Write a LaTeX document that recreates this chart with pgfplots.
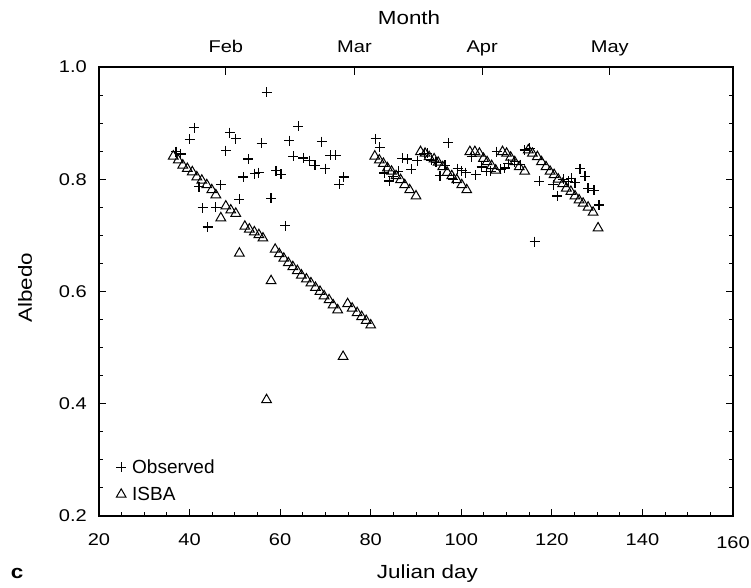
\documentclass[border=0pt]{standalone}
\usepackage{pgfplots}
\pgfplotsset{compat=1.18}
\usepackage{fontspec}
\setmainfont{Liberation Sans}[FakeStretch=1.18]
\newfontfamily\plainfont{Liberation Sans}
\newcommand{\tickf}{\fontsize{17}{20}\selectfont}
\newcommand{\labf}{\fontsize{19}{23}\selectfont}
\newcommand{\legf}{\plainfont\fontsize{19}{23}\selectfont}
\begin{document}
\begin{tikzpicture}
\path[use as bounding box] (-99pt,-71pt) rectangle (652pt,516pt);
\begin{axis}[
  width=634pt, height=449pt, scale only axis,
  xmin=20, xmax=160, ymin=0.2, ymax=1.0,
  /pgf/number format/assume math mode=true,
  xtick={20,40,60,80,100,120,140,160},
  xticklabels={20,40,60,80,100,120,140,\raisebox{-3pt}{160}},
  minor x tick num=3,
  ytick={0.2,0.4,0.6,0.8,1.0},
  minor y tick num=3,
  y tick label style={font=\tickf, /pgf/number format/fixed, /pgf/number format/fixed zerofill, /pgf/number format/precision=1, anchor=east, inner sep=0pt, xshift=-12pt},
  xtick pos=bottom, ytick pos=both,
  tick align=inside,
  major tick length=7pt, minor tick length=4pt,
  axis line style={line width=1.3pt, black},
  every tick/.style={line width=1pt, black},
  x tick label style={font=\tickf, anchor=base, inner sep=0pt, yshift=-29pt},
  xlabel={Julian day},
  xlabel style={font=\labf, at={(axis description cs:0.518,0)}, anchor=base, yshift=-62.3pt},
  ylabel={Albedo},
  ylabel style={font=\labf, at={(axis description cs:-0.1167,0.508)}, anchor=center},
  legend style={draw=none, fill=none, font=\legf, at={(axis description cs:0,0)}, anchor=south west, xshift=17pt, yshift=13pt, row sep=10pt, column sep=5pt, inner sep=0pt, nodes={inner sep=1pt}},
  legend cell align=left,
  legend image code/.code={\draw[#1] plot coordinates {(5pt,0pt)};},
]
\addplot[only marks, mark=+, mark size=5pt, line width=1.2pt, black] coordinates {
(37.0,0.849)(38.0,0.845)(40.0,0.871)(41.0,0.892)(42.1,0.787)(42.9,0.749)
(44.0,0.715)(45.8,0.750)(46.9,0.790)(48.0,0.851)(48.9,0.883)(50.2,0.872)
(51.0,0.764)(51.9,0.804)(53.0,0.836)(54.4,0.810)(55.3,0.812)(55.9,0.864)
(57.0,0.955)(58.0,0.766)(59.1,0.815)(60.2,0.809)(61.1,0.717)(62.0,0.869)
(62.9,0.841)(64.0,0.894)(65.1,0.838)(66.4,0.833)(67.7,0.825)(69.2,0.867)
(70.0,0.819)(71.1,0.843)(72.3,0.843)(73.1,0.791)(74.0,0.804)
(81.1,0.872)(82.0,0.857)(83.0,0.811)(84.1,0.797)(85.0,0.805)(86.1,0.814)
(87.0,0.837)(88.1,0.836)(89.0,0.818)(90.3,0.833)(91.8,0.846)(92.5,0.846)
(93.4,0.834)(94.4,0.830)(95.3,0.806)(96.4,0.825)(97.1,0.865)(98.2,0.800)
(99.2,0.819)(100.1,0.815)(101.0,0.812)(102.3,0.840)(103.2,0.808)(104.5,0.822)
(105.6,0.814)(106.5,0.814)(107.8,0.849)(108.7,0.818)(109.6,0.820)(110.4,0.828)
(111.8,0.831)(113.0,0.826)(114.0,0.852)(115.1,0.855)(116.2,0.689)(117.2,0.796)
(120.3,0.790)(121.2,0.770)(122.5,0.800)(123.6,0.796)(124.3,0.802)(125.1,0.794)
(126.2,0.819)(127.3,0.805)(128.0,0.784)(129.3,0.780)(130.4,0.754)
};
\addlegendentry{Observed}
\addplot[only marks, mark=triangle, mark size=5.6pt, line width=1pt, black] coordinates {
(36.4,0.841)(37.5,0.834)(38.5,0.825)(39.5,0.819)(40.6,0.813)(41.6,0.804)
(42.7,0.798)(43.8,0.790)(44.9,0.781)(45.8,0.772)(46.9,0.731)(48.0,0.752)
(49.1,0.745)(50.2,0.739)(51.0,0.668)(52.2,0.716)(53.2,0.711)(54.3,0.706)
(55.3,0.701)(56.2,0.695)(57.0,0.407)(58.0,0.619)(58.9,0.675)(59.8,0.667)
(60.8,0.659)(61.8,0.651)(62.8,0.644)(63.8,0.637)(64.7,0.629)(65.8,0.622)
(66.8,0.615)(67.8,0.607)(68.8,0.600)(69.7,0.592)(70.8,0.585)(71.7,0.576)
(72.7,0.567)(73.9,0.484)(74.9,0.578)(75.9,0.570)(77.0,0.562)(78.0,0.555)
(79.0,0.548)(80.0,0.540)
(80.9,0.841)(81.9,0.834)(82.8,0.828)(83.7,0.820)(84.6,0.814)(85.6,0.806)
(86.6,0.799)(87.5,0.790)(88.6,0.781)(90.0,0.770)
(91.0,0.849)(92.0,0.846)(92.9,0.840)(94.0,0.836)(94.9,0.830)(95.9,0.822)
(96.9,0.812)(97.9,0.806)(99.0,0.799)(100.1,0.790)(101.2,0.781)
(101.9,0.849)(103.0,0.849)(104.0,0.846)(104.9,0.837)(105.7,0.831)(106.7,0.824)
(107.6,0.816)
(109.1,0.849)(110.0,0.846)(110.9,0.839)(111.8,0.831)(112.8,0.822)(114.0,0.814)
(114.8,0.852)(115.7,0.846)(116.8,0.840)(117.7,0.831)(118.7,0.822)(119.6,0.814)
(120.5,0.808)(121.4,0.800)(122.4,0.792)(123.2,0.784)(124.2,0.778)(125.1,0.770)
(126.0,0.763)(126.9,0.757)(128.0,0.750)(129.1,0.741)(130.2,0.713)
};
\addlegendentry{ISBA}
\end{axis}
\begin{axis}[
  width=634pt, height=449pt, scale only axis,
  xmin=20, xmax=160, ymin=0.2, ymax=1.0,
  axis x line*=top, axis y line=none,
  xtick={48,76.4,104.6,132.8},
  xticklabels={Feb,Mar,Apr,May},
  tick align=inside, major tick length=8pt,
  axis line style={line width=1.3pt, black},
  every tick/.style={line width=1pt, black},
  x tick label style={font=\tickf, anchor=base, inner sep=0pt, yshift=14.7pt},
  xlabel={Month},
  xlabel style={font=\labf, at={(axis description cs:0.489,1)}, anchor=base, yshift=42pt},
]
\end{axis}
\node[font=\labf\bfseries, anchor=base] at (-82pt,-62pt) {c};
\end{tikzpicture}
\end{document}
